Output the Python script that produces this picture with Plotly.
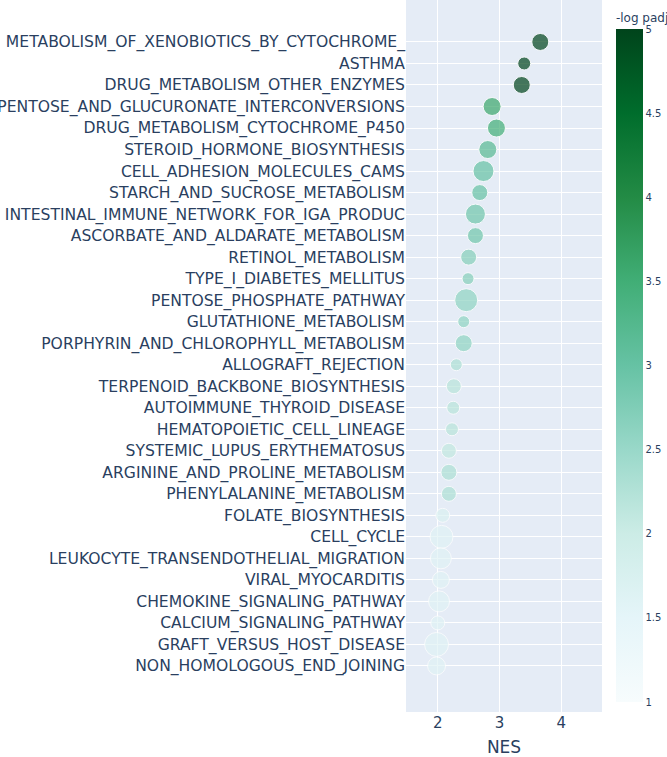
import plotly.graph_objects as go

pathways = [
    "METABOLISM_OF_XENOBIOTICS_BY_CYTOCHROME_",
    "ASTHMA",
    "DRUG_METABOLISM_OTHER_ENZYMES",
    "PENTOSE_AND_GLUCURONATE_INTERCONVERSIONS",
    "DRUG_METABOLISM_CYTOCHROME_P450",
    "STEROID_HORMONE_BIOSYNTHESIS",
    "CELL_ADHESION_MOLECULES_CAMS",
    "STARCH_AND_SUCROSE_METABOLISM",
    "INTESTINAL_IMMUNE_NETWORK_FOR_IGA_PRODUC",
    "ASCORBATE_AND_ALDARATE_METABOLISM",
    "RETINOL_METABOLISM",
    "TYPE_I_DIABETES_MELLITUS",
    "PENTOSE_PHOSPHATE_PATHWAY",
    "GLUTATHIONE_METABOLISM",
    "PORPHYRIN_AND_CHLOROPHYLL_METABOLISM",
    "ALLOGRAFT_REJECTION",
    "TERPENOID_BACKBONE_BIOSYNTHESIS",
    "AUTOIMMUNE_THYROID_DISEASE",
    "HEMATOPOIETIC_CELL_LINEAGE",
    "SYSTEMIC_LUPUS_ERYTHEMATOSUS",
    "ARGININE_AND_PROLINE_METABOLISM",
    "PHENYLALANINE_METABOLISM",
    "FOLATE_BIOSYNTHESIS",
    "CELL_CYCLE",
    "LEUKOCYTE_TRANSENDOTHELIAL_MIGRATION",
    "VIRAL_MYOCARDITIS",
    "CHEMOKINE_SIGNALING_PATHWAY",
    "CALCIUM_SIGNALING_PATHWAY",
    "GRAFT_VERSUS_HOST_DISEASE",
    "NON_HOMOLOGOUS_END_JOINING",
]

nes = [3.66, 3.40, 3.36, 2.88, 2.95, 2.81, 2.74, 2.68, 2.61, 2.61,
       2.50, 2.49, 2.46, 2.42, 2.42, 2.30, 2.26, 2.25, 2.23, 2.18,
       2.18, 2.18, 2.08, 2.06, 2.05, 2.05, 2.02, 2.00, 1.98, 1.98]

neg_log_padj = [5.0, 5.0, 5.0, 3.6, 3.5, 3.2, 3.0, 3.0, 2.9, 2.9,
                2.7, 2.7, 2.6, 2.6, 2.6, 2.3, 2.2, 2.2, 2.2, 2.1,
                2.3, 2.3, 1.7, 1.6, 1.6, 1.6, 1.6, 1.6, 1.6, 1.6]

set_size = [17, 13, 17, 18, 18, 18, 21, 16, 20, 16,
            16, 12, 23, 12, 17, 12, 15, 13, 13, 15,
            16, 15, 14, 23, 21, 17, 21, 14, 24, 18]

fig = go.Figure(
    go.Scatter(
        x=nes,
        y=pathways,
        mode="markers",
        marker=dict(
            size=set_size,
            sizemode="diameter",
            color=neg_log_padj,
            colorscale="BuGn",
            cmin=1,
            cmax=5,
            opacity=0.7,
            line=dict(color="white", width=1),
            colorbar=dict(
                title=dict(text="-log padj", font=dict(size=12)),
                tickfont=dict(size=10),
                thickness=27,
                outlinewidth=0,
            ),
        ),
        showlegend=False,
    )
)

fig.update_layout(
    width=667,
    height=757,
    margin=dict(l=406, r=65, t=0, b=45, autoexpand=False),
    font=dict(family="DejaVu Sans, sans-serif", color="#2a3f5f"),
    plot_bgcolor="#e5ecf6",
    paper_bgcolor="white",
    xaxis=dict(
        title=dict(text="NES", font=dict(size=17)),
        range=[1.485, 4.66],
        tickvals=[2, 3, 4],
        tickfont=dict(size=15),
        gridcolor="white",
        zeroline=False,
    ),
    yaxis=dict(
        type="category",
        categoryorder="array",
        categoryarray=pathways,
        range=[31.14, -1.95],
        tickfont=dict(size=15.6),
        gridcolor="white",
    ),
)

fig.write_html(
    "out.html",
    config={"displayModeBar": False},
    post_script="document.body.style.margin='0px';",
)
